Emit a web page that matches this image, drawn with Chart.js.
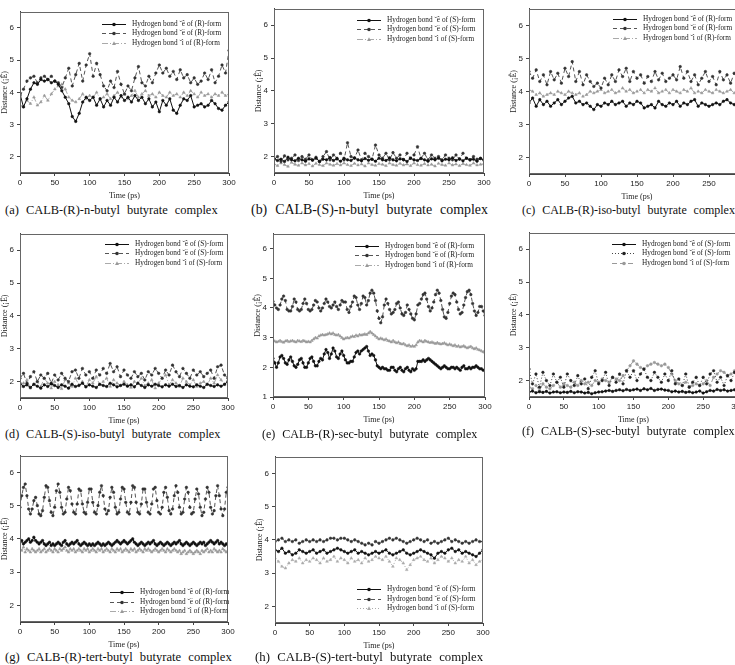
<!DOCTYPE html>
<html>
<head>
<meta charset="utf-8">
<script src="https://cdn.jsdelivr.net/npm/chart.js@4.4.1/dist/chart.umd.min.js"></script>
<style>
  html, body { margin: 0; padding: 0; background: #fff; }
  body { width: 735px; height: 665px; position: relative; overflow: hidden; }
  .cap { position: absolute; font-family: "Liberation Serif", serif; color: #111; white-space: nowrap; font-size: 12.5px; word-spacing: 4px; }
</style>
</head>
<body>
<script>
// time axes (ps)
const t5 = [0,5,10,15,20,25,30,35,40,45,
  50,55,60,65,70,75,80,85,90,95,
  100,105,110,115,120,125,130,135,140,145,
  150,155,160,165,170,175,180,185,190,195,
  200,205,210,215,220,225,230,235,240,245,
  250,255,260,265,270,275,280,285,290,295,
  300];
const t25 = [0,2.5,5,7.5,10,12.5,15,17.5,20,22.5,
  25,27.5,30,32.5,35,37.5,40,42.5,45,47.5,
  50,52.5,55,57.5,60,62.5,65,67.5,70,72.5,
  75,77.5,80,82.5,85,87.5,90,92.5,95,97.5,
  100,102.5,105,107.5,110,112.5,115,117.5,120,122.5,
  125,127.5,130,132.5,135,137.5,140,142.5,145,147.5,
  150,152.5,155,157.5,160,162.5,165,167.5,170,172.5,
  175,177.5,180,182.5,185,187.5,190,192.5,195,197.5,
  200,202.5,205,207.5,210,212.5,215,217.5,220,222.5,
  225,227.5,230,232.5,235,237.5,240,242.5,245,247.5,
  250,252.5,255,257.5,260,262.5,265,267.5,270,272.5,
  275,277.5,280,282.5,285,287.5,290,292.5,295,297.5,
  300];

const xTicks = [0, 50, 100, 150, 200, 250, 300];
const yTicks = [2, 3, 4, 5, 6];
const yTicksE = [1, 2, 3, 4, 5, 6];

const labelsR = ['Hydrogen bond ˘ê of (R)-form', 'Hydrogen bond ˘ë of (R)-form', 'Hydrogen bond ˘ì of (R)-form'];
const labelsS = ['Hydrogen bond ˘ê of (S)-form', 'Hydrogen bond ˘ë of (S)-form', 'Hydrogen bond ˘ì of (S)-form'];

// (a) CALB-(R)-n-butyl butyrate
const aS1 = [3.95,3.55,3.8,4.1,4.3,4.25,4.4,4.35,4.4,4.3,
  4.35,4.25,4.05,3.85,3.65,3.25,3.1,3.35,3.7,3.85,
  3.75,3.85,3.6,3.8,3.55,3.75,3.6,3.85,3.7,3.9,
  3.75,3.85,3.7,3.9,3.75,3.85,3.65,3.8,3.55,3.7,
  3.4,3.75,3.6,3.8,3.45,3.35,3.6,3.8,3.75,3.9,
  3.55,3.6,3.65,3.55,3.6,3.75,3.65,3.5,3.45,3.6,
  3.7];
const aS2 = [3.9,4.1,4.35,4.45,4.5,4.3,4.45,4.5,4.4,4.5,
  4.35,4.3,4.15,4.45,4.75,4.2,4.55,4.9,4.35,4.85,
  5.2,4.5,4.9,4.55,4.2,4.05,4.35,4.15,4.65,4.25,
  3.95,4.2,4.05,4.45,4.8,4.3,4.2,4.5,4.3,4.6,
  4.85,4.6,4.75,4.5,4.65,4.4,4.7,4.45,4.55,4.3,
  4.45,4.25,4.35,4.6,4.4,4.7,4.3,4.5,4.85,4.6,
  5.3];
const aS3 = [3.6,3.55,3.75,3.65,3.85,3.6,3.7,3.9,3.75,3.95,
  4.1,4.2,4.25,4.1,3.85,3.75,3.7,3.8,3.95,3.8,
  3.9,3.85,4.0,3.8,3.85,3.95,3.8,3.9,4.0,3.85,
  3.95,3.8,3.9,4.05,3.85,3.95,4.05,3.9,3.95,3.85,
  4.0,3.9,3.85,4.0,3.9,3.95,3.85,4.0,3.9,4.05,
  3.95,3.85,4.0,3.9,3.95,3.85,3.95,3.9,4.0,3.9,
  3.95];

// (b) CALB-(S)-n-butyl butyrate
const bS1 = [1.95,1.88,1.92,1.85,1.98,1.9,1.87,1.95,1.9,1.86,
  1.93,1.89,1.95,1.85,1.92,1.9,1.97,1.88,1.93,1.86,
  1.95,1.9,1.88,1.96,1.9,1.87,1.94,1.89,1.92,1.86,
  1.95,1.9,1.88,1.96,1.9,1.87,1.93,1.91,1.85,1.95,
  1.9,1.88,1.94,1.9,1.86,1.93,1.9,1.95,1.87,1.92,
  1.9,1.96,1.88,1.93,1.87,1.95,1.9,1.92,1.86,1.94,
  1.9];
const bS2 = [1.9,2.0,1.85,2.02,1.9,1.95,2.05,1.88,2.0,1.92,
  2.05,1.9,1.98,1.85,2.0,2.15,1.9,2.05,1.95,2.1,
  1.9,2.42,2.0,1.95,2.2,1.9,2.1,2.0,1.92,2.35,
  2.05,1.95,2.1,1.9,2.12,1.95,2.05,1.9,2.1,1.95,
  2.05,2.3,1.95,2.1,1.9,2.05,1.95,2.0,1.9,2.05,
  1.95,1.9,2.05,1.92,2.1,1.95,1.9,2.0,1.92,1.95,
  1.88];
const bS3 = [1.78,1.72,1.8,1.75,1.7,1.82,1.76,1.73,1.8,1.74,
  1.78,1.71,1.79,1.75,1.72,1.8,1.76,1.73,1.78,1.74,
  1.8,1.75,1.72,1.79,1.74,1.77,1.71,1.8,1.75,1.73,
  1.78,1.76,1.72,1.8,1.75,1.73,1.79,1.74,1.77,1.72,
  1.8,1.75,1.73,1.78,1.74,1.76,1.71,1.79,1.75,1.73,
  1.8,1.74,1.77,1.72,1.78,1.75,1.73,1.8,1.74,1.76,
  1.78];

// (c) CALB-(R)-iso-butyl butyrate
const cS1 = [3.65,3.8,3.55,3.75,3.6,3.7,3.55,3.65,3.75,3.6,
  3.7,3.8,3.85,3.65,3.7,3.6,3.65,3.55,3.45,3.6,
  3.55,3.65,3.6,3.7,3.6,3.65,3.7,3.55,3.65,3.6,
  3.7,3.65,3.5,3.55,3.6,3.5,3.7,3.6,3.55,3.65,
  3.6,3.7,3.55,3.65,3.6,3.7,3.75,3.55,3.65,3.6,
  3.55,3.6,3.65,3.6,3.7,3.75,3.65,3.6,3.55,3.6,
  3.62];
const cS2 = [4.6,4.4,4.65,4.3,4.5,4.2,4.6,4.35,4.55,4.25,
  4.7,4.45,4.9,4.3,4.6,4.2,4.5,4.3,4.15,4.25,
  4.1,4.4,4.2,4.5,4.3,4.65,4.45,4.7,4.3,4.6,
  4.4,4.5,4.25,4.45,4.3,4.6,4.35,4.55,4.3,4.4,
  4.5,4.35,4.75,4.4,4.6,4.3,4.5,4.2,4.4,4.6,
  4.3,4.45,4.2,4.6,4.35,4.5,4.25,4.55,4.3,4.45,
  4.2];
const cS3 = [4.05,4.0,3.9,3.95,3.85,3.9,3.95,3.9,4.0,3.95,
  3.9,4.0,3.95,3.9,3.95,3.85,3.9,4.0,3.95,4.0,
  4.05,3.95,4.0,4.05,3.95,4.0,4.1,4.0,4.05,3.95,
  4.0,4.05,3.95,4.05,4.0,4.1,3.95,4.0,4.05,3.95,
  4.05,4.0,3.95,4.05,4.0,4.1,3.95,4.0,3.95,4.05,
  4.0,3.95,4.05,4.0,3.95,4.0,4.05,3.95,4.0,3.95,
  4.0];

// (d) CALB-(S)-iso-butyl butyrate
const dS1 = [1.95,1.85,1.9,1.82,1.92,1.86,1.8,1.9,1.85,1.93,
  1.88,1.82,1.9,1.86,1.8,1.92,1.85,1.88,1.95,1.84,
  1.9,1.86,1.82,1.92,1.88,1.85,1.95,1.9,1.84,1.88,
  1.92,1.86,1.9,1.84,1.95,1.88,1.82,1.9,1.86,1.92,
  1.88,1.84,1.9,1.86,1.92,1.85,1.88,1.82,1.9,1.86,
  1.84,1.9,1.86,1.82,1.92,1.88,1.85,1.9,1.86,1.92,
  2.0];
const dS2 = [2.1,2.25,1.95,2.15,2.3,2.0,2.2,2.1,2.25,1.95,
  2.2,2.05,2.25,2.1,2.0,2.3,2.35,2.1,2.4,2.2,
  2.3,2.1,2.35,2.2,2.4,2.25,2.55,2.3,2.45,2.15,
  2.35,2.2,2.1,2.3,2.15,2.25,2.05,2.3,2.2,2.4,
  2.25,2.1,2.35,2.2,2.5,2.3,2.15,2.4,2.25,2.1,
  2.35,2.2,2.3,2.15,2.25,2.35,2.1,2.45,2.5,2.2,
  2.1];
const dS3 = [1.85,1.95,2.05,1.8,1.9,2.0,1.85,2.1,1.95,1.8,
  2.0,1.9,1.78,2.05,1.95,1.85,2.1,1.9,2.0,1.85,
  2.05,1.95,2.15,1.9,2.0,2.1,1.85,2.05,1.95,1.88,
  2.0,1.9,1.82,2.0,1.95,2.1,1.88,1.95,2.05,1.8,
  1.95,2.1,2.2,1.9,2.05,1.95,1.85,2.1,2.0,1.9,
  2.05,1.85,1.95,2.0,1.9,2.1,1.95,2.2,2.05,1.9,
  2.05];

// (e) CALB-(R)-sec-butyl butyrate (2.5 ps steps)
const eS1 = [2.3,2.15,2.0,2.15,2.35,2.4,2.3,2.15,2.1,2.25,
  2.35,2.2,2.05,2.0,2.1,2.25,2.3,2.15,2.0,2.0,
  2.15,2.3,2.35,2.2,2.05,2.05,2.2,2.3,2.25,2.45,
  2.6,2.5,2.3,2.45,2.65,2.55,2.35,2.3,2.45,2.55,
  2.4,2.25,2.15,2.15,2.2,2.2,2.35,2.5,2.55,2.45,
  2.55,2.6,2.65,2.7,2.55,2.4,2.45,2.4,2.25,2.05,
  2.0,1.95,2.0,1.95,1.95,1.9,1.9,2.0,2.0,1.9,
  1.85,1.95,2.0,1.9,1.85,1.95,2.0,1.9,1.85,1.95,
  1.9,1.95,2.2,2.2,2.2,2.25,2.2,2.25,2.3,2.25,
  2.2,2.15,2.1,2.05,2.0,1.95,2.0,2.05,2.0,1.95,
  1.95,2.0,2.0,1.95,2.0,1.95,1.9,2.0,2.05,1.95,
  1.95,2.0,1.95,2.0,2.0,2.05,2.0,1.95,1.95,1.9,
  1.9];
const eS2 = [4.22,4.1,4.0,3.95,4.1,4.3,4.4,4.25,3.95,3.9,
  3.9,4.05,4.3,4.2,3.95,3.9,3.95,4.15,4.3,4.15,
  3.95,3.9,3.95,4.1,4.25,4.2,4.0,3.9,4.0,4.15,
  4.3,4.2,4.05,4.0,4.1,4.2,4.05,3.95,4.1,4.25,
  4.2,4.2,3.95,3.85,4.05,4.2,4.4,4.35,4.1,3.95,
  4.15,4.4,4.35,4.1,4.25,4.5,4.6,4.5,4.25,3.9,
  3.65,3.5,3.7,4.1,4.3,4.15,3.95,3.8,3.85,3.95,
  4.15,4.2,4.0,3.8,3.75,3.85,4.1,3.95,3.8,3.65,
  3.6,3.8,4.1,4.15,4.3,4.45,4.5,4.3,4.05,3.9,
  4.0,4.2,4.45,4.6,4.5,4.25,3.95,3.7,3.65,3.85,
  4.15,4.4,4.5,4.45,4.2,3.95,3.8,3.85,4.1,4.35,
  4.55,4.6,4.45,4.15,3.9,3.75,3.85,4.05,4.05,3.9,
  3.75];
const eS3 = [2.9,2.88,2.85,2.87,2.9,2.86,2.84,2.88,2.9,2.86,
  2.88,2.9,2.87,2.85,2.9,2.88,2.86,2.9,2.88,2.85,
  2.87,2.85,2.9,2.95,3.0,2.98,3.05,3.08,3.1,3.08,
  3.1,3.12,3.15,3.12,3.15,3.1,3.08,3.1,3.05,3.0,
  2.95,2.98,3.0,2.98,3.02,3.05,3.03,3.08,3.05,3.1,
  3.08,3.1,3.12,3.1,3.15,3.2,3.15,3.1,3.05,3.0,
  2.95,2.98,2.95,2.92,2.95,2.9,2.88,2.85,2.9,2.85,
  2.82,2.85,2.8,2.78,2.8,2.75,2.72,2.75,2.7,2.72,
  2.7,2.75,2.85,2.9,2.88,2.85,2.9,2.87,2.85,2.83,
  2.85,2.82,2.8,2.83,2.8,2.78,2.8,2.82,2.78,2.75,
  2.78,2.75,2.72,2.75,2.7,2.72,2.68,2.7,2.72,2.68,
  2.65,2.68,2.7,2.65,2.62,2.65,2.6,2.58,2.55,2.52,
  2.5];

// (f) CALB-(S)-sec-butyl butyrate
const fS1 = [1.65,1.68,1.63,1.66,1.64,1.67,1.62,1.65,1.66,1.63,
  1.65,1.64,1.67,1.63,1.66,1.65,1.62,1.64,1.6,1.63,
  1.65,1.66,1.68,1.7,1.67,1.7,1.72,1.69,1.73,1.7,
  1.72,1.74,1.7,1.75,1.72,1.76,1.7,1.73,1.74,1.71,
  1.7,1.66,1.68,1.65,1.67,1.64,1.66,1.63,1.65,1.68,
  1.62,1.66,1.7,1.68,1.73,1.7,1.72,1.68,1.7,1.72,
  1.7];
const fS2 = [2.35,1.9,2.2,1.8,2.25,2.0,1.85,2.2,1.95,2.1,
  1.8,2.2,2.0,1.85,2.15,1.9,2.05,1.75,2.1,2.3,
  1.9,2.0,2.25,1.85,2.1,1.95,2.2,1.9,2.3,2.1,
  2.3,2.0,2.2,2.35,2.1,2.0,2.25,2.1,1.95,2.2,
  2.0,2.3,1.9,2.05,1.85,2.2,1.8,1.95,2.1,1.85,
  2.1,1.9,2.2,2.3,1.95,2.1,1.85,2.15,2.0,2.25,
  2.1];
const fS3 = [1.8,1.75,1.85,1.7,1.9,1.8,1.75,1.85,1.95,1.8,
  1.9,1.85,1.8,1.95,1.85,2.0,1.9,1.95,1.85,2.0,
  1.95,2.05,2.0,1.95,2.1,2.05,2.0,2.15,2.3,2.45,
  2.6,2.5,2.4,2.35,2.45,2.5,2.55,2.5,2.45,2.5,
  2.4,2.2,2.0,1.9,1.85,1.95,1.8,1.85,1.9,1.85,
  1.9,2.0,1.85,2.1,2.2,2.3,2.25,2.15,2.2,2.3,
  2.2];

// (g) CALB-(R)-tert-butyl butyrate (2.5 ps steps)
const gS1 = [3.9,3.95,3.85,3.9,3.95,4.0,3.9,3.95,4.05,3.95,
  3.9,3.85,3.9,3.95,3.85,3.8,3.85,3.9,3.8,3.85,
  3.8,3.85,3.9,3.85,3.8,3.9,3.95,3.85,3.8,3.85,
  3.9,3.85,3.9,3.95,3.85,3.8,3.85,3.9,3.85,3.8,
  3.85,3.8,3.85,3.8,3.85,3.9,3.85,3.8,3.85,3.8,
  3.85,3.9,3.85,3.8,3.85,3.9,3.95,3.9,3.85,3.9,
  3.95,3.9,3.85,3.9,3.95,4.0,3.9,3.85,3.8,3.85,
  3.9,3.85,3.8,3.85,3.9,3.85,3.9,3.95,3.85,3.8,
  3.85,3.9,3.85,3.8,3.85,3.9,3.85,3.8,3.85,3.9,
  3.85,3.9,3.95,3.85,3.8,3.85,3.9,3.85,3.8,3.85,
  3.9,3.85,3.8,3.85,3.9,3.85,3.9,3.8,3.85,3.9,
  3.95,3.9,3.85,3.9,3.95,3.85,3.9,3.85,3.8,3.85,
  3.82];
const gS2 = [4.95,5.3,5.55,5.65,5.3,4.9,4.75,4.9,5.15,5.25,
  5.0,4.75,4.7,4.85,5.25,5.6,5.55,5.15,4.8,4.7,
  4.95,5.45,5.65,5.4,4.95,4.75,4.8,5.2,5.55,5.45,
  5.05,4.8,4.75,5.05,5.5,5.45,5.05,4.8,4.75,5.1,
  5.5,5.5,5.1,4.8,4.75,5.0,5.4,5.6,5.3,4.9,
  4.75,4.85,5.25,5.55,5.4,4.95,4.75,4.8,5.2,5.55,
  5.5,5.1,4.8,4.75,5.1,5.6,5.55,5.1,4.8,4.75,
  5.05,5.5,5.5,5.1,4.8,4.75,5.05,5.5,5.55,5.15,
  4.8,4.75,4.95,5.4,5.55,5.25,4.85,4.75,4.9,5.3,
  5.6,5.4,4.95,4.75,4.8,5.2,5.55,5.4,4.95,4.75,
  4.8,5.2,5.5,5.35,4.95,4.7,4.8,5.2,5.55,5.4,
  4.95,4.75,4.85,5.3,5.6,5.3,4.9,4.7,4.9,5.4,
  5.55];
const gS3 = [3.7,3.65,3.75,3.6,3.7,3.65,3.6,3.7,3.65,3.6,
  3.65,3.7,3.6,3.65,3.7,3.6,3.65,3.7,3.65,3.6,
  3.7,3.65,3.6,3.7,3.65,3.7,3.75,3.65,3.6,3.7,
  3.65,3.7,3.6,3.65,3.7,3.65,3.6,3.7,3.65,3.7,
  3.6,3.65,3.7,3.65,3.6,3.7,3.65,3.7,3.6,3.65,
  3.7,3.65,3.6,3.7,3.65,3.6,3.7,3.65,3.7,3.6,
  3.65,3.7,3.65,3.6,3.7,3.65,3.7,3.6,3.65,3.7,
  3.65,3.6,3.7,3.65,3.7,3.65,3.6,3.65,3.7,3.65,
  3.6,3.65,3.7,3.65,3.6,3.7,3.65,3.6,3.65,3.7,
  3.65,3.6,3.65,3.55,3.6,3.65,3.55,3.6,3.65,3.6,
  3.55,3.6,3.65,3.6,3.55,3.65,3.6,3.65,3.7,3.6,
  3.65,3.6,3.7,3.65,3.6,3.65,3.6,3.7,3.65,3.6,
  3.65];

// (h) CALB-(S)-tert-butyl butyrate
const hS1 = [3.7,3.65,3.75,3.6,3.65,3.55,3.6,3.7,3.65,3.6,
  3.65,3.7,3.6,3.65,3.7,3.6,3.65,3.7,3.75,3.7,
  3.65,3.6,3.65,3.7,3.6,3.65,3.6,3.55,3.6,3.65,
  3.6,3.65,3.7,3.6,3.55,3.6,3.65,3.7,3.6,3.55,
  3.6,3.65,3.7,3.65,3.6,3.55,3.45,3.6,3.65,3.6,
  3.7,3.75,3.65,3.7,3.6,3.65,3.6,3.55,3.5,3.6,
  3.7];
const hS2 = [3.95,4.0,4.05,3.95,4.0,3.95,4.0,3.9,3.95,4.0,
  3.95,4.0,3.95,4.0,3.95,4.0,4.05,4.05,4.0,4.05,
  4.05,4.0,3.95,4.0,3.95,3.9,3.85,3.9,3.85,3.95,
  3.9,3.95,4.0,4.05,4.0,4.05,4.0,3.95,3.9,3.95,
  4.0,4.05,4.0,3.95,4.0,3.9,3.95,3.9,3.95,4.0,
  4.05,3.95,4.0,3.95,3.9,3.95,3.9,3.95,4.0,3.95,
  3.95];
const hS3 = [3.45,3.35,3.2,3.15,3.3,3.4,3.35,3.45,3.3,3.4,
  3.35,3.45,3.4,3.3,3.45,3.35,3.4,3.5,3.35,3.45,
  3.4,3.3,3.45,3.35,3.4,3.3,3.45,3.35,3.4,3.5,
  3.45,3.4,3.5,3.35,3.2,3.45,3.4,3.3,3.1,3.25,
  3.4,3.45,3.5,3.4,3.35,3.45,3.3,3.4,3.5,3.45,
  3.35,3.45,3.3,3.4,3.35,3.5,3.3,3.4,3.25,3.35,
  3.4];

// line styles
const solid = { color: '#111', point: '#111', dash: [], shape: 'circle' };
const dashDark = { color: '#555', point: '#333', dash: [4, 3], shape: 'circle' };
const dashDot = { color: '#aaa', point: '#999', dash: [6, 2, 1, 2], shape: 'triangle' };
const dotDark = { color: '#444', point: '#222', dash: [1, 2], shape: 'circle' };
const dashLight = { color: '#999', point: '#999', dash: [5, 3], shape: 'circle' };
const dotLight = { color: '#aaa', point: '#aaa', dash: [1, 2], shape: 'triangle' };

// plot rectangles [left, top, right, bottom] in page pixels
const panels = [
  { box: [20, 8, 229, 173], time: t5, series: [aS1, aS2, aS3], styles: [solid, dashDark, dashDot], labels: labelsR, ymin: 1.5, yt: yTicks, leg: [82, 12, false] },
  { box: [274, 5, 484, 173], time: t5, series: [bS1, bS2, bS3], styles: [solid, dashDark, dashDot], labels: labelsS, ymin: 1.5, yt: yTicks, leg: [83, 11, false] },
  { box: [529, 5, 745, 174], time: t5, series: [cS1, cS2, cS3], styles: [solid, dashDark, dashDot], labels: labelsR, ymin: 1.5, yt: yTicks, leg: [84, 10, false] },
  { box: [20, 230, 228, 398], time: t5, series: [dS1, dS2, dS3], styles: [solid, dashDark, dashDot], labels: labelsS, ymin: 1.5, yt: yTicks, leg: [85, 10, false] },
  { box: [273, 230, 485, 397], time: t25, series: [eS1, eS2, eS3], styles: [solid, dashDark, dashDot], labels: labelsR, ymin: 1, yt: yTicksE, leg: [82, 12, false] },
  { box: [529, 229, 738, 397], time: t5, series: [fS1, fS2, fS3], styles: [solid, dotDark, dashLight], labels: labelsS, ymin: 1.5, yt: yTicks, leg: [83, 11, false] },
  { box: [20, 452, 228, 622], time: t25, series: [gS1, gS2, gS3], styles: [solid, dashDark, dashDot], labels: labelsR, ymin: 1.5, yt: yTicks, leg: [90, -30, true] },
  { box: [275, 453, 483, 623], time: t5, series: [hS1, hS2, hS3], styles: [solid, dashDark, dotLight], labels: labelsS, ymin: 1.5, yt: yTicks, leg: [82, -34, true] }
];

const captions = [
  ['(a) CALB-(R)-n-butyl butyrate complex', 5, 203, 213],
  ['(b) CALB-(S)-n-butyl butyrate complex', 251, 202, 237],
  ['(c) CALB-(R)-iso-butyl butyrate complex', 522, 203, 213],
  ['(d) CALB-(S)-iso-butyl butyrate complex', 5, 427, 215],
  ['(e) CALB-(R)-sec-butyl butyrate complex', 262, 427, 215],
  ['(f) CALB-(S)-sec-butyl butyrate complex', 522, 424, 213],
  ['(g) CALB-(R)-tert-butyl butyrate complex', 5, 650, 227],
  ['(h) CALB-(S)-tert-butyl butyrate complex', 255, 650, 228]
];

const YW = 22, PT = 4, PR = 10, XH = 28;

function marker(ctx, shape, x, y, r) {
  ctx.beginPath();
  if (shape === 'triangle') {
    ctx.moveTo(x, y - r * 1.2);
    ctx.lineTo(x + r * 1.1, y + r * 0.8);
    ctx.lineTo(x - r * 1.1, y + r * 0.8);
    ctx.closePath();
  } else {
    ctx.arc(x, y, r, 0, Math.PI * 2);
  }
  ctx.fill();
}

// frame around the plot and the small legend inside it
const frameLegend = {
  id: 'frameLegend',
  afterDatasetsDraw(chart, args, opts) {
    const ctx = chart.ctx, a = chart.chartArea;
    ctx.save();
    ctx.strokeStyle = '#666';
    ctx.lineWidth = 1;
    ctx.strokeRect(Math.round(a.left) + 0.5, Math.round(a.top) + 0.5, Math.round(a.right - a.left) - 1, Math.round(a.bottom - a.top) - 1);
    const x0 = a.left + opts.dx;
    const y0 = (opts.fromBottom ? a.bottom : a.top) + opts.dy;
    ctx.font = '7.3px "Liberation Serif"';
    ctx.textBaseline = 'middle';
    chart.data.datasets.forEach((ds, i) => {
      const y = Math.round(y0 + i * 9.5) + 0.5;
      ctx.setLineDash(ds.borderDash);
      ctx.strokeStyle = ds.borderColor;
      ctx.beginPath();
      ctx.moveTo(x0, y);
      ctx.lineTo(x0 + 24, y);
      ctx.stroke();
      ctx.setLineDash([]);
      ctx.fillStyle = ds.pointBackgroundColor;
      marker(ctx, ds.pointStyle, x0 + 12, y, 1.8);
      ctx.fillStyle = '#222';
      ctx.fillText(ds.label, x0 + 30, y);
    });
    ctx.restore();
  }
};

panels.forEach(p => {
  p.series.forEach(s => {
    if (s.length !== p.time.length) throw new Error('length mismatch ' + s.length + ' vs ' + p.time.length);
  });
  const [L, T, R, B] = p.box;
  const div = document.createElement('div');
  div.style.cssText = `position:absolute;left:${L - YW}px;top:${T - PT}px;width:${R - L + YW + PR}px;height:${B - T + PT + XH}px`;
  const cv = document.createElement('canvas');
  div.appendChild(cv);
  document.body.appendChild(div);

  new Chart(cv, {
    type: 'line',
    data: {
      datasets: p.series.map((s, i) => ({
        label: p.labels[i],
        data: s.map((y, k) => ({ x: p.time[k], y })),
        borderColor: p.styles[i].color,
        borderDash: p.styles[i].dash,
        borderWidth: 1,
        pointStyle: p.styles[i].shape,
        pointRadius: p.styles[i].shape === 'triangle' ? 1.6 : 1.3,
        pointBackgroundColor: p.styles[i].point,
        pointBorderColor: p.styles[i].point,
        pointBorderWidth: 0.5,
        tension: 0
      }))
    },
    options: {
      responsive: true,
      maintainAspectRatio: false,
      animation: false,
      layout: { padding: { top: PT, right: PR, left: 0, bottom: 0 } },
      plugins: {
        legend: { display: false },
        tooltip: { enabled: false },
        frameLegend: { dx: p.leg[0], dy: p.leg[1], fromBottom: p.leg[2] }
      },
      scales: {
        x: {
          type: 'linear',
          min: 0,
          max: 300,
          afterBuildTicks: s => { s.ticks = xTicks.map(v => ({ value: v })); },
          afterFit: s => { s.height = XH; },
          ticks: { font: { family: 'Liberation Sans', size: 8 }, color: '#222', padding: 2, maxRotation: 0, autoSkip: false },
          grid: { drawOnChartArea: false, tickLength: 3, color: '#444' },
          border: { color: '#444' },
          title: { display: true, text: 'Time (ps)', font: { family: 'Liberation Serif', size: 8 }, color: '#222', padding: 0 }
        },
        y: {
          min: p.ymin,
          max: 6.5,
          afterBuildTicks: s => { s.ticks = p.yt.map(v => ({ value: v })); },
          afterFit: s => { s.width = YW; },
          ticks: { font: { family: 'Liberation Sans', size: 8 }, color: '#222', padding: 3 },
          grid: { drawOnChartArea: false, tickLength: 3, color: '#444' },
          border: { color: '#444' },
          title: { display: true, text: 'Distance (¡Ê)', font: { family: 'Liberation Serif', size: 8 }, color: '#222', padding: { top: 2, bottom: 0 } }
        }
      }
    },
    plugins: [frameLegend]
  });
});

captions.forEach(([text, x, y, w]) => {
  const d = document.createElement('div');
  d.className = 'cap';
  d.textContent = text;
  d.style.left = x + 'px';
  d.style.top = y + 'px';
  document.body.appendChild(d);
  const scale = w / d.offsetWidth;
  d.style.fontSize = (12.5 * scale).toFixed(2) + 'px';
  d.style.wordSpacing = (4 * scale).toFixed(2) + 'px';
});
</script>
</body>
</html>
